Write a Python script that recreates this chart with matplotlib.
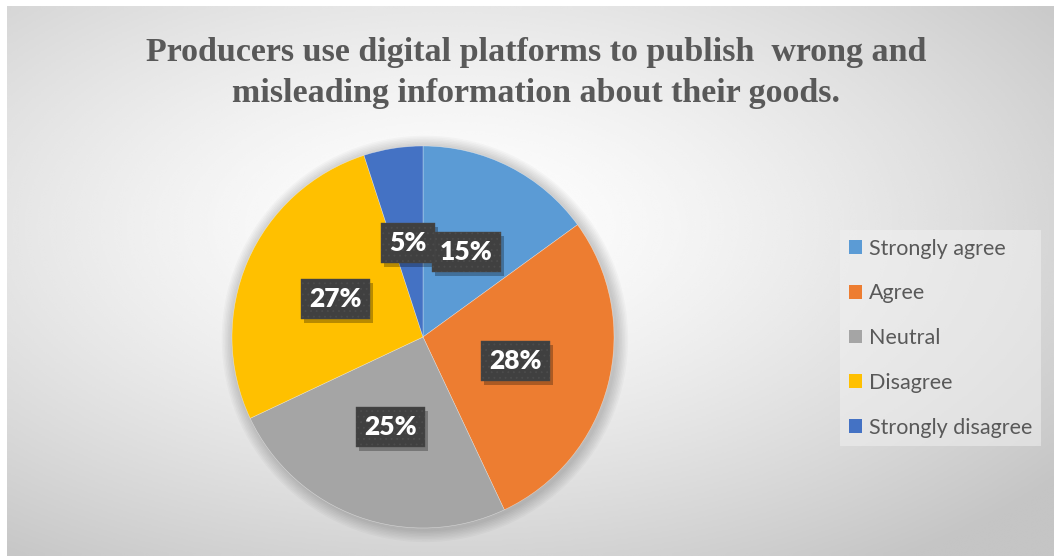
import numpy as np
import matplotlib
matplotlib.use("Agg")
import matplotlib.pyplot as plt
from matplotlib.patches import Patch, Circle, Rectangle
from matplotlib.transforms import IdentityTransform

OUT_FILE = "out.png"

categories = ["Strongly agree", "Agree", "Neutral", "Disagree", "Strongly disagree"]
shares = [15, 28, 25, 27, 5]
colors = ["#5B9BD5", "#ED7D31", "#A5A5A5", "#FFC000", "#4472C4"]
title = "Producers use digital platforms to publish  wrong and\nmisleading information about their goods."

W, H = 1054, 556
plt.rcParams["hatch.linewidth"] = 0.6
fig = plt.figure(figsize=(W / 100, H / 100), dpi=100)
fig.patch.set_facecolor("white")

# radial gray gradient behind everything (chart area starts a few px in)
bg = fig.add_axes([7 / W, 0, (W - 7) / W, (H - 6) / H], zorder=0)
yy, xx = np.mgrid[0:300, 0:560]
dx = (xx / 559 - 0.42) / 0.75
dy = (yy / 299 - 0.40) / 0.75
r = np.clip(np.sqrt(dx ** 2 + dy ** 2), 0, 1)
shade = 1.0 - 0.23 * r ** 1.4
bg.imshow(shade, cmap="gray", vmin=0, vmax=1, aspect="auto",
          extent=[0, 1, 1, 0], interpolation="bicubic")
bg.axis("off")

fig.text(0.5 * (143 + 930) / W, 1 - 73 / H, title, ha="center", va="center",
         fontsize=24.5, fontweight="bold", family="Liberation Serif",
         color="#595959", linespacing=1.45)

# pie axes: centre (423, 337) px, radius 191 px
cx, cy, rad = 423, 337, 191
ax = fig.add_axes([(cx - rad) / W, (H - cy - rad) / H, 2 * rad / W, 2 * rad / H], zorder=1)

# soft shadow halo around the pie
for k in range(8):
    ax.add_patch(Circle((0.01, -0.01), 1.0 + 0.008 * (k + 1), color="black",
                        alpha=0.025, lw=0, clip_on=False, zorder=0))

wedges, texts, autotexts = ax.pie(
    shares, colors=colors, startangle=90, counterclock=False,
    autopct=lambda p: f"{p:.0f}%", pctdistance=0.5,
    wedgeprops=dict(linewidth=0.4, edgecolor="#ffffff80"),
)
ax.set_xlim(-1, 1)
ax.set_ylim(-1, 1)
ax.set_aspect("auto")

for t in autotexts:
    t.set_fontsize(19)
    t.set_fontweight("heavy")
    t.set_family("Lato")
    t.set_color("white")
    t.set_zorder(5)
    t.set_bbox(dict(boxstyle="square,pad=0.3", facecolor="#404040",
                    edgecolor="#4c4c4c", linewidth=0.3, hatch="..."))

# drop shadows for the label boxes, placed from the drawn box extents
fig.canvas.draw()
renderer = fig.canvas.get_renderer()
for t in autotexts:
    bb = t.get_bbox_patch().get_window_extent(renderer)
    ax.add_artist(Rectangle((bb.x0 + 3, bb.y0 - 4), bb.width, bb.height,
                            transform=IdentityTransform(), facecolor="black",
                            alpha=0.28, linewidth=0, zorder=4, clip_on=False))

handles = [Patch(facecolor=c, edgecolor="none") for c in colors]
leg = fig.legend(handles, categories, loc="upper left",
                 bbox_to_anchor=(840 / W, 1 - 230 / H),
                 frameon=True, handlelength=0.6, handleheight=0.6,
                 handletextpad=0.35, labelspacing=1.15, borderaxespad=0,
                 prop=dict(family="Lato", size=15.5))
leg.get_frame().set_facecolor("#f0f0f0")
leg.get_frame().set_alpha(0.55)
leg.get_frame().set_linewidth(0)
leg.get_frame().set_boxstyle("square,pad=0")
for txt in leg.get_texts():
    txt.set_color("#595959")

fig.savefig(OUT_FILE, dpi=100, facecolor=fig.get_facecolor())
plt.close(fig)
